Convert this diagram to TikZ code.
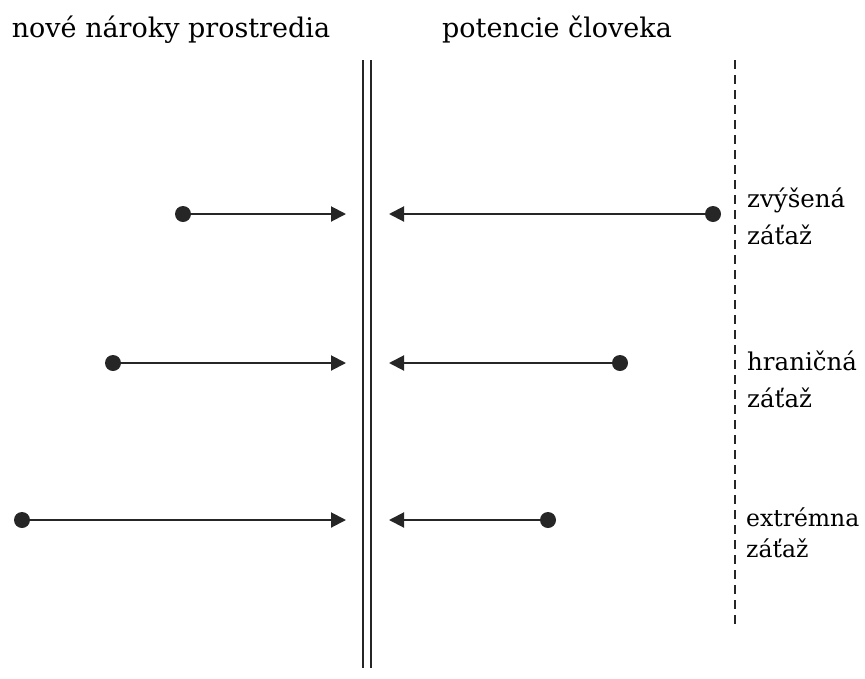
\documentclass[tikz,border=0pt]{standalone}
\usepackage{fontspec}
\setmainfont{DejaVu Serif}
\usetikzlibrary{arrows.meta}
\begin{document}
\begin{tikzpicture}[x=1pt,y=-1pt,
  conn/.style={line width=2pt,draw={black!85},-{Triangle[length=15pt,width=15pt]}},
  dotnode/.style={circle,fill={black!85},inner sep=0pt,minimum size=16pt},
  title/.style={anchor=base,inner sep=0pt,font=\fontsize{27}{27}\selectfont},
  lbl/.style={anchor=base west,inner sep=0pt,align=left,font=\fontsize{24.5}{37}\selectfont},
  lbls/.style={anchor=base west,inner sep=0pt,align=left,font=\fontsize{23.5}{31}\selectfont}]
\useasboundingbox (0,0) rectangle (865,678);
% titles
\node[title] (t1) at (171,37) {nové nároky prostredia};
\node[title] (t2) at (557,37) {potencie človeka};
% double wall
\coordinate (w1a) at (363,60); \coordinate (w1b) at (363,668);
\coordinate (w2a) at (371,60); \coordinate (w2b) at (371,668);
\draw[line width=2pt,black!85] (w1a) -- (w1b);
\draw[line width=2pt,black!85] (w2a) -- (w2b);
% dashed line
\coordinate (da) at (735,60); \coordinate (db) at (735,628);
\draw[line width=1.6pt,black!85,dash pattern=on 9pt off 6pt] (da) -- (db);
% row 1
\node[dotnode] (l1) at (183,214) {};
\coordinate (l1e) at (346,214);
\node[dotnode] (r1) at (713,214) {};
\coordinate (r1e) at (389,214);
\draw[conn] (l1.center) -- (l1e);
\draw[conn] (r1.center) -- (r1e);
% row 2
\node[dotnode] (l2) at (113,363) {};
\coordinate (l2e) at (346,363);
\node[dotnode] (r2) at (620,363) {};
\coordinate (r2e) at (389,363);
\draw[conn] (l2.center) -- (l2e);
\draw[conn] (r2.center) -- (r2e);
% row 3
\node[dotnode] (l3) at (22,520) {};
\coordinate (l3e) at (346,520);
\node[dotnode] (r3) at (548,520) {};
\coordinate (r3e) at (389,520);
\draw[conn] (l3.center) -- (l3e);
\draw[conn] (r3.center) -- (r3e);
% labels (base anchor = last line baseline)
\node[lbl] (a1) at (747,244) {zvýšená\\záťaž};
\node[lbl] (a2) at (747,407) {hraničná\\záťaž};
\node[lbls] (a3) at (746,557) {extrémna\\záťaž};
\end{tikzpicture}
\end{document}
